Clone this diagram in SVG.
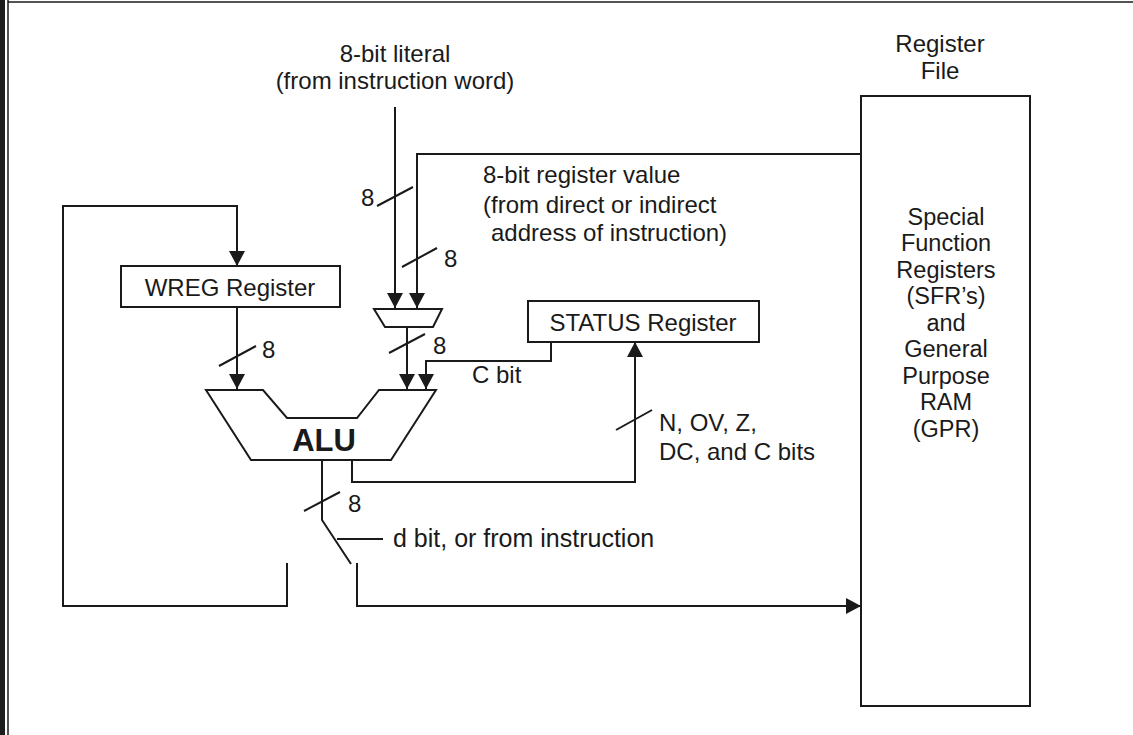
<svg xmlns="http://www.w3.org/2000/svg" width="1133" height="735" viewBox="0 0 1133 735">
<defs>
<style>
.ln{fill:none;stroke:#1a1a1a;stroke-width:2;stroke-linecap:butt}
.bx{fill:#fff;stroke:#1a1a1a;stroke-width:2}
.t{font-family:"Liberation Sans",Arial,sans-serif;font-size:24px;fill:#1a1a1a}
.r{font-size:23.5px}
.c{text-anchor:middle}
.b{font-weight:bold;font-size:31px}
</style>
<marker id="ar" viewBox="0 0 15 16" refX="15" refY="8" markerWidth="15" markerHeight="16" markerUnits="userSpaceOnUse" orient="auto">
<path d="M0,0 L15,8 L0,16 Z" fill="#1a1a1a"/>
</marker>
</defs>
<rect width="1133" height="735" fill="#fff"/>
<rect x="0" y="0" width="5" height="735" fill="#1c1c1c"/>
<line x1="8" y1="0" x2="8" y2="735" stroke="#1a1a1a" stroke-width="1.5"/>
<line x1="8" y1="2" x2="1133" y2="2" stroke="#1a1a1a" stroke-width="1.5"/>

<g id="connectors">
<line class="ln" x1="395" y1="107" x2="395" y2="308" marker-end="url(#ar)"/>
<line class="ln" x1="377" y1="206" x2="413" y2="187"/>
<polyline class="ln" points="861,154 417,154 417,308" marker-end="url(#ar)"/>
<line class="ln" x1="402" y1="267" x2="437" y2="248"/>
<line class="ln" x1="407" y1="327" x2="407" y2="389" marker-end="url(#ar)"/>
<line class="ln" x1="389" y1="353" x2="425" y2="334"/>
<polyline class="ln" points="551,342 551,361 426,361 426,389" marker-end="url(#ar)"/>
<polyline class="ln" points="287,563 287,606 63,606 63,206 237,206 237,266" marker-end="url(#ar)"/>
<line class="ln" x1="237" y1="307" x2="237" y2="389" marker-end="url(#ar)"/>
<line class="ln" x1="219" y1="366" x2="256" y2="346"/>
<polyline class="ln" points="352,460 352,482 635,482 635,342" marker-end="url(#ar)"/>
<line class="ln" x1="616" y1="430" x2="652" y2="410"/>
<polyline class="ln" points="322,460 322,520 351,564"/>
<line class="ln" x1="304" y1="511" x2="340" y2="492"/>
<line class="ln" x1="337" y1="539" x2="383" y2="539"/>
<polyline class="ln" points="357,563 357,606 861,606" marker-end="url(#ar)"/>
</g>

<g id="regfile">
<rect class="bx" x="861" y="96" width="169" height="610"/>
<text class="t c" x="940" y="52">Register</text>
<text class="t c" x="940" y="79">File</text>
<text class="t r c" x="946" y="225">Special</text>
<text class="t r c" x="946" y="251">Function</text>
<text class="t r c" x="946" y="278">Registers</text>
<text class="t r c" x="946" y="304">(SFR’s)</text>
<text class="t r c" x="946" y="331">and</text>
<text class="t r c" x="946" y="357">General</text>
<text class="t r c" x="946" y="384">Purpose</text>
<text class="t r c" x="946" y="410">RAM</text>
<text class="t r c" x="946" y="437">(GPR)</text>
</g>

<g id="wreg">
<rect class="bx" x="121" y="266" width="219" height="41"/>
<text class="t c" x="230" y="296">WREG Register</text>
</g>

<g id="status">
<rect class="bx" x="528" y="301" width="231" height="41"/>
<text class="t c" x="643" y="331">STATUS Register</text>
</g>

<g id="mux">
<polygon class="bx" points="374,309 442,309 433,327 385,327"/>
</g>

<g id="alu">
<polygon class="bx" points="206,390 263,390 287,418 357,418 379,390 436,390 391,460 251,460"/>
<text class="t c b" x="324" y="451">ALU</text>
</g>

<g id="labels">
<text class="t c" x="395" y="62">8-bit literal</text>
<text class="t c" x="395" y="89">(from instruction word)</text>
<text class="t" x="361" y="206">8</text>
<text class="t" x="483" y="183">8-bit register value</text>
<text class="t" x="483" y="213">(from direct or indirect</text>
<text class="t" x="491" y="241">address of instruction)</text>
<text class="t" x="444" y="267">8</text>
<text class="t" x="433" y="354">8</text>
<text class="t" x="472" y="383">C bit</text>
<text class="t" x="262" y="358">8</text>
<text class="t" x="659" y="431">N, OV, Z,</text>
<text class="t" x="659" y="460">DC, and C bits</text>
<text class="t" x="348" y="512">8</text>
<text class="t" x="393" y="547" style="font-size:25px">d bit, or from instruction</text>
</g>
</svg>
